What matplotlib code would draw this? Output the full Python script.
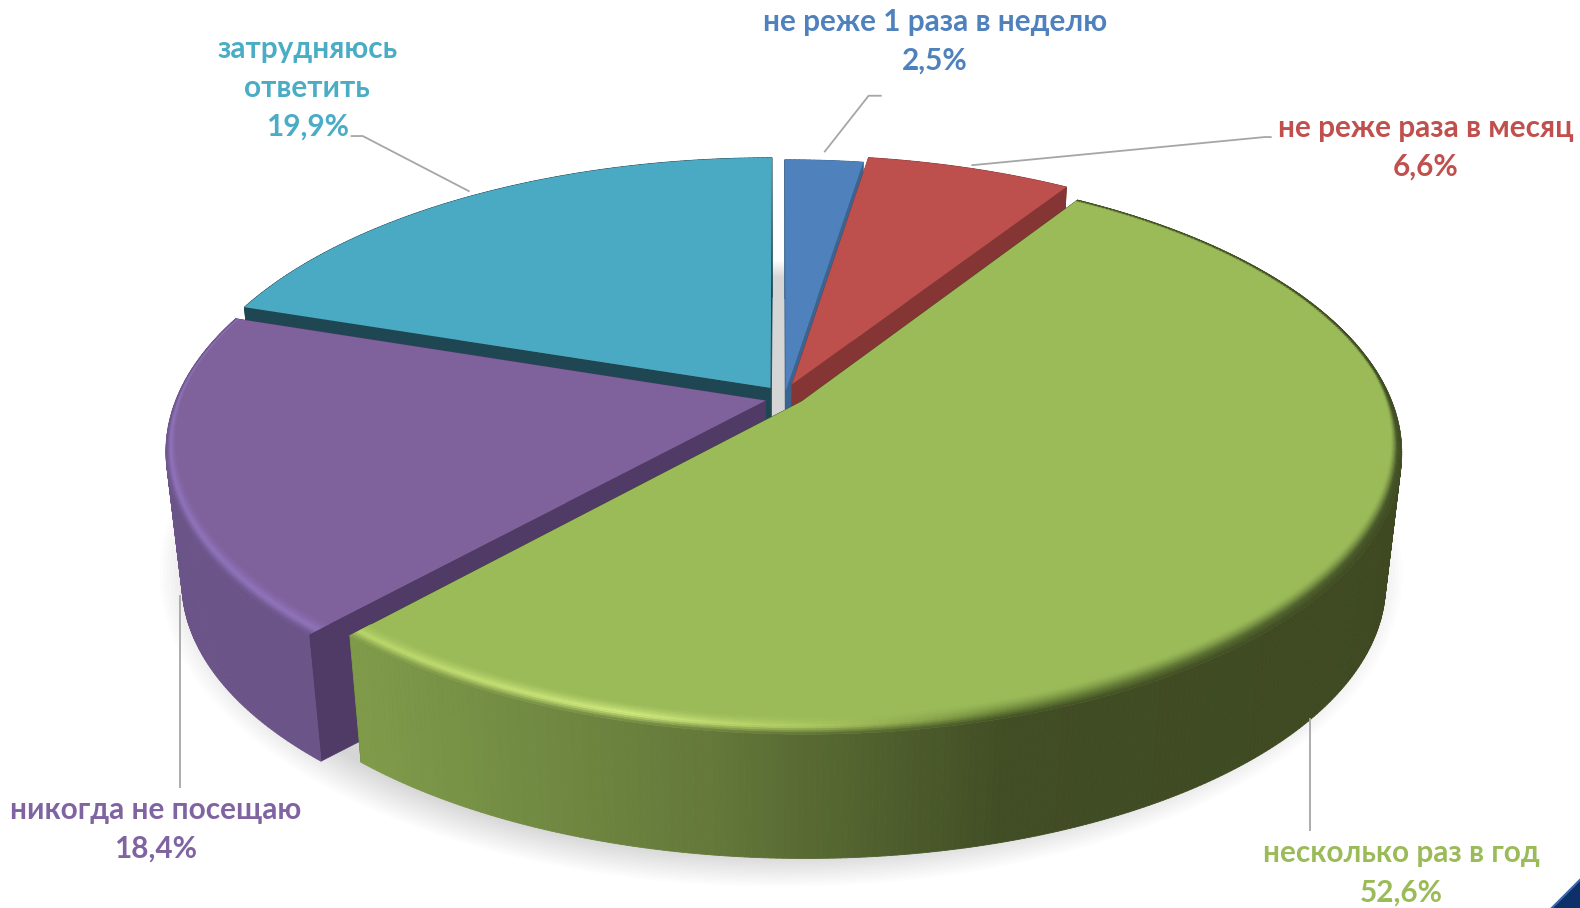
import numpy as np
import matplotlib
matplotlib.use("Agg")
import matplotlib.pyplot as plt
from matplotlib.collections import PolyCollection
from matplotlib.colors import to_rgb

# ---- data ----
categories = ["не реже 1 раза в неделю", "не реже раза в месяц", "несколько раз в год",
              "никогда не посещаю", "затрудняюсь\nответить"]
values = [2.5, 6.6, 52.6, 18.4, 19.9]
top_colors = ["#4f81bd", "#bd504d", "#9bbb59", "#7f619c", "#4aaac4"]
text_colors = ["#4f81bd", "#c0504d", "#9bbb59", "#8064a2", "#4bacc6"]
face_colors = ["#3c6491", "#843534", "#3f4b22", "#4f3b66", "#1f4753"]
offset_u = [0.008, 0.019, 0.035, -0.026, -0.018]
offset_v = [0.013, 0.036, -0.027, -0.024, 0.023]
draw_order = [0, 1, 4, 3, 2]

# ---- geometry of the drawing, in axes units (pixels of a 1568 x 901 frame) ----
W, H = 1568, 901
CX, CY = 775, 391
RX, RY, PERSP = 583, 270, 0.174
BASE_SCALE, BASE_DROP = 0.974, 132

wall_stops_x = [[165, 1400]] * 5
wall_stops_x[2] = [355, 700, 1000, 1400]
wall_stops_c = [["#3c6491"] * 2, ["#843534"] * 2,
                ["#7f9b4a", "#64793a", "#414d24", "#3e4921"],
                ["#6b5488", "#6a5386"], ["#1f4753"] * 2]
rim_stops_x = [[165, 1400], [165, 1400], [355, 620, 800, 1000, 1400], [165, 1400], [165, 1400]]
rim_stops_c = [["#4f81bd"] * 2, ["#bd504d"] * 2,
               ["#bcd86c", "#d4ee80", "#b0cc62", "#6f8a3c", "#46552a"],
               ["#9175bd", "#9175bd"], ["#4aaac4"] * 2]


def project(u, v):
    w = 1 + PERSP * np.asarray(v, float)
    return CX + RX * np.asarray(u, float) / w, CY - RY * np.asarray(v, float) / w


def base(x, y):
    return CX + BASE_SCALE * (x - CX), CY + BASE_SCALE * (y - CY) + BASE_DROP


def grad(x, xs, cs):
    arr = np.array([to_rgb(c) for c in cs])
    return np.stack([np.interp(x, xs, arr[:, k]) for k in range(3)], axis=-1)


plt.rcParams["font.family"] = ["Lato", "DejaVu Sans"]
fig = plt.figure(figsize=(15.8, 9.08), dpi=100)
ax = fig.add_axes([0, 0, 1, 1])
ax.set_xlim(0, W)
ax.set_ylim(H, 0)
ax.axis("off")

# soft shadow below the pie
t = np.linspace(0, 2 * np.pi, 400)
for r in np.linspace(1.04, 0.965, 14):
    x, y = project(r * np.sin(t), r * np.cos(t))
    ax.fill(x, CY + 1.07 * (y - CY) + 122, color="black", alpha=0.01, lw=0, zorder=1)

# wedges
edges = np.concatenate([[0], np.cumsum(values)]) / np.sum(values) * 2 * np.pi
z = 2
for i in draw_order:
    a0, a1 = edges[i], edges[i + 1]
    ox, oy = offset_u[i], offset_v[i]
    th = np.linspace(a0, a1, max(int((a1 - a0) * 110), 6))
    ux, vy = np.sin(th), np.cos(th)
    rx, ry = project(ux + ox, vy + oy)
    apx, apy = project(ox, oy)
    bx, by = base(rx, ry)
    bapx, bapy = base(apx, apy)

    # radial faces
    for k in (0, -1):
        ax.fill([apx, rx[k], bx[k], bapx], [apy, ry[k], by[k], bapy],
                color=face_colors[i], lw=0.5, zorder=z)
    z += 1

    # outer wall, coloured by horizontal position
    polys, cols = [], []
    for k in range(len(th) - 1):
        polys.append([(rx[k], ry[k]), (rx[k + 1], ry[k + 1]), (bx[k + 1], by[k + 1]), (bx[k], by[k])])
        cols.append(grad((rx[k] + rx[k + 1]) / 2, wall_stops_x[i], wall_stops_c[i]))
    ax.add_collection(PolyCollection(polys, facecolors=cols, edgecolors=cols, linewidths=0.6, zorder=z))
    z += 1

    # top surface
    ax.fill(np.r_[apx, rx], np.r_[apy, ry], color=top_colors[i], lw=0, zorder=z)
    z += 1

    # rounded rim between top and wall
    top_rgb = np.array(to_rgb(top_colors[i]))
    n_band = 10
    polys, cols = [], []
    if i in (2, 3):
        for k in range(len(th) - 1):
            vm = (vy[k] + vy[k + 1]) / 2
            bw = 0.007 + 0.04 * np.clip(0.1 - vm, 0, 1)
            xm = (rx[k] + rx[k + 1]) / 2
            hl = grad(xm, rim_stops_x[i], rim_stops_c[i])
            wc = grad(xm, wall_stops_x[i], wall_stops_c[i])
            for j in range(n_band):
                f0, f1 = j / n_band, (j + 1) / n_band
                r0, r1 = 1 - bw * (1 - f0), 1 - bw * (1 - f1)
                p = []
                for rr, kk in ((r0, k), (r1, k), (r1, k + 1), (r0, k + 1)):
                    px, py = project(rr * ux[kk] + ox, rr * vy[kk] + oy)
                    p.append((float(px), float(py)))
                fm = (f0 + f1) / 2
                if fm < 0.6:
                    c = top_rgb + (hl - top_rgb) * (fm / 0.6) ** 1.5
                else:
                    c = hl + (wc - hl) * ((fm - 0.6) / 0.4)
                polys.append(p)
                cols.append(c)
        ax.add_collection(PolyCollection(polys, facecolors=cols, edgecolors=cols, linewidths=0.4, zorder=z))
        z += 1

# leader lines
leaders = [
    ([818, 862, 875], [151, 95, 95]),
    ([964, 1255, 1262], [164, 136, 136]),
    ([1300, 1300], [712, 825]),
    ([179, 179], [590, 782]),
    ([466, 360, 348], [190, 135, 135]),
]
for lx, ly in leaders:
    ax.plot(lx, ly, color="#a6a6a6", lw=1.3, zorder=z, solid_capstyle="butt")
z += 1

# labels
label_pos = [(928, 41), (1415, 146), (1391, 866), (154, 823), (305, 87)]
for name, val, col, (tx, ty) in zip(categories, values, text_colors, label_pos):
    s = name + "\n" + f"{val:.1f}".replace(".", ",") + "%"
    ax.text(tx, ty, s, color=col, fontsize=21.4, fontweight="bold", ha="center", va="center",
            linespacing=1.47, zorder=z)

# corner decoration
ax.fill([1540, W, W], [H, 873, H], color="#0f2f6b", lw=0, zorder=z)
ax.plot([1540, W], [H, 873], color="#3a6aa8", lw=1.5, zorder=z)

fig.savefig("out.png", dpi=100, facecolor="white")
